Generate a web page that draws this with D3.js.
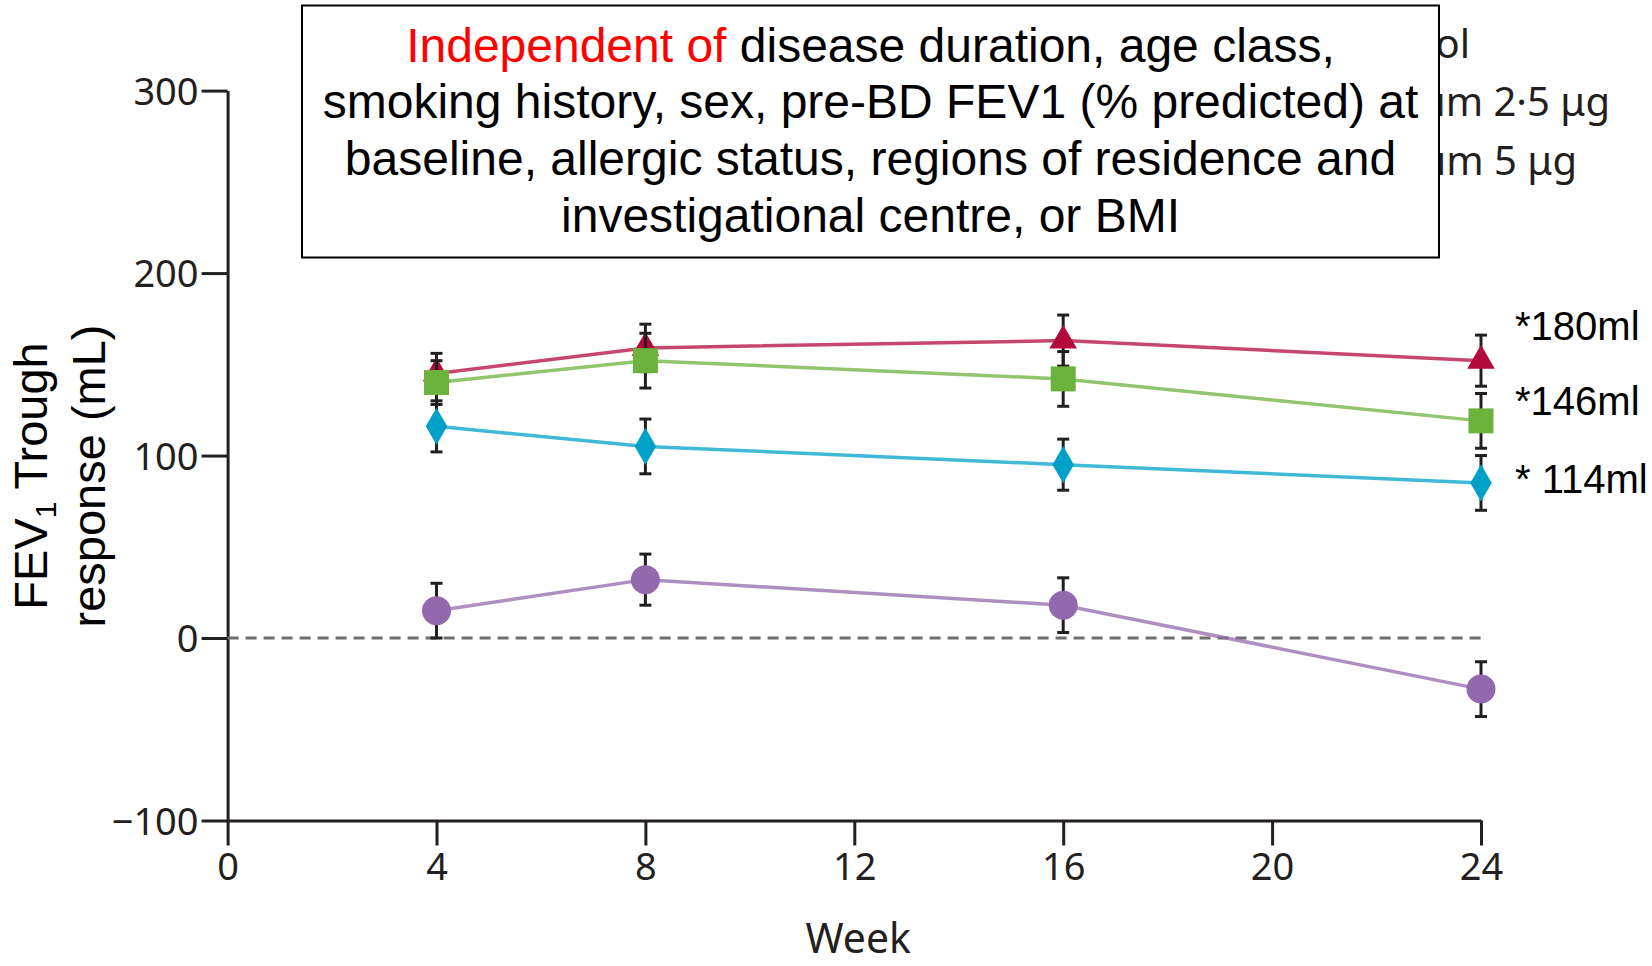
<!DOCTYPE html>
<html>
<head>
<meta charset="utf-8">
<script src="https://cdn.jsdelivr.net/npm/d3@7"></script>
<style>
  html, body { margin: 0; padding: 0; background: #ffffff; }
  svg { display: block; }
</style>
</head>
<body>
<svg id="chart" width="1652" height="966"></svg>
<script>
// Trough FEV1 response over 24 weeks, mean ± SE
const weeks = [4, 8, 16, 24];
const xTicks = [0, 4, 8, 12, 16, 20, 24];
const yTicks = [-100, 0, 100, 200, 300];

const placeboVals = [15, 32, 18, -28];
const placeboErr  = [15, 14, 15, 15];
const lowDoseVals = [116, 105, 95, 85];
const lowDoseErr  = [14, 15, 14, 15];
const highDoseVals = [145, 159, 163, 152];
const highDoseErr  = [11, 13, 14, 14];
const comboVals = [140, 152, 142, 119];
const comboErr  = [12, 15, 15, 15];

const endLabels = ["*180ml", "*146ml", "* 114ml"];
// Legend entries; only their tails show beside the note box
const legendTails = ["ol", "um 2·5 μg", "um 5 μg"];
const noteRed = "Independent of";
const noteLines = [
  " disease duration, age class,",
  "smoking history, sex, pre-BD FEV1 (% predicted) at",
  "baseline, allergic status, regions of residence and",
  "investigational centre, or BMI"
];

const series = [
  { name: "placebo", vals: placeboVals, err: placeboErr, color: "#9369ae", shape: "circle" },
  { name: "low",     vals: lowDoseVals, err: lowDoseErr, color: "#00a1c9", shape: "diamond" },
  { name: "high",    vals: highDoseVals, err: highDoseErr, color: "#b30a3c", shape: "triangle" },
  { name: "combo",   vals: comboVals, err: comboErr, color: "#6cb33e", shape: "square" }
];

const ink = "#231f20";
const tickFont = "'Noto Sans', 'DejaVu Sans', sans-serif";
const arial = "'Liberation Sans', Arial, sans-serif";

const svg = d3.select("#chart");

const x = d3.scaleLinear().domain([0, 24]).range([227.6, 1481]);
const y = d3.scaleLinear().domain([-100, 300]).range([820.5, 90.6]);

// Legend tails, clipped at the note box edge
svg.append("defs").append("clipPath").attr("id", "legendClip")
  .append("rect").attr("x", 1440).attr("y", 0).attr("width", 212).attr("height", 260);
const legendEnds = [1470, 1610, 1577];
const legendBase = [58, 116, 175];
svg.append("g").attr("clip-path", "url(#legendClip)")
  .selectAll("text").data(legendTails).join("text")
  .attr("x", (d, i) => legendEnds[i])
  .attr("y", (d, i) => legendBase[i])
  .attr("text-anchor", "end")
  .attr("font-family", tickFont)
  .attr("font-size", 40)
  .attr("fill", ink)
  .text(d => d);

// Axes
const yAxis = svg.append("g")
  .attr("transform", `translate(${x(0)},0)`)
  .call(d3.axisLeft(y).tickValues(yTicks).tickSize(26).tickSizeOuter(0).tickPadding(3));
const xAxis = svg.append("g")
  .attr("transform", `translate(0,${y(-100)})`)
  .call(d3.axisBottom(x).tickValues(xTicks).tickSize(25).tickSizeOuter(0).tickPadding(4));

[yAxis, xAxis].forEach(g => {
  g.select(".domain").attr("stroke", ink).attr("stroke-width", 3);
  g.selectAll(".tick line").attr("stroke", ink).attr("stroke-width", 3);
  g.selectAll(".tick text")
    .attr("fill", ink)
    .attr("font-family", tickFont)
    .attr("font-size", 38);
});
yAxis.selectAll(".tick text").attr("dy", "0.36em");
xAxis.selectAll(".tick text").attr("dy", "0.8em");

// Zero reference line
svg.append("line")
  .attr("x1", x(0)).attr("x2", x(24))
  .attr("y1", y(0)).attr("y2", y(0))
  .attr("stroke", "#6e6e6e")
  .attr("stroke-width", 3)
  .attr("stroke-dasharray", "11,7");

// Axis titles
svg.append("text")
  .attr("x", x(12) + 4)
  .attr("y", 953)
  .attr("text-anchor", "middle")
  .attr("font-family", tickFont)
  .attr("font-size", 41)
  .attr("fill", ink)
  .text("Week");

const yTitle = svg.append("g").attr("transform", "translate(0,476) rotate(-90)");
const t1 = yTitle.append("text")
  .attr("x", 0).attr("y", 47)
  .attr("text-anchor", "middle")
  .attr("font-family", arial)
  .attr("font-size", 47)
  .attr("fill", "#000");
t1.append("tspan").text("FEV");
t1.append("tspan").attr("font-size", 30).attr("dy", 9).text("1");
t1.append("tspan").attr("dy", -9).text(" Trough");
yTitle.append("text")
  .attr("x", 0).attr("y", 105)
  .attr("text-anchor", "middle")
  .attr("font-family", arial)
  .attr("font-size", 47)
  .attr("fill", "#000")
  .text("response (mL)");

// Series
const line = d3.line().x(d => x(d.w)).y(d => y(d.v));
const sym = {
  circle: d3.symbol().type(d3.symbolCircle).size(Math.PI * 14.5 * 14.5),
  square: d3.symbol().type(d3.symbolSquare).size(25 * 25),
  triangle: d3.symbol().type(d3.symbolTriangle).size(330),
  diamond: d3.symbol().type(d3.symbolDiamond).size(400)
};

series.forEach(s => {
  const pts = weeks.map((w, i) => ({ w, v: s.vals[i], e: s.err[i] }));
  const g = svg.append("g");
  g.append("path")
    .attr("d", line(pts))
    .attr("fill", "none")
    .attr("stroke", s.color)
    .attr("stroke-opacity", 0.75)
    .attr("stroke-width", 3.5);
  const eb = g.append("g").selectAll("g").data(pts).join("g")
    .attr("stroke", ink).attr("stroke-width", 3);
  eb.append("line")
    .attr("x1", d => x(d.w)).attr("x2", d => x(d.w))
    .attr("y1", d => y(d.v + d.e)).attr("y2", d => y(d.v - d.e));
  eb.append("line")
    .attr("x1", d => x(d.w) - 6).attr("x2", d => x(d.w) + 6)
    .attr("y1", d => y(d.v + d.e)).attr("y2", d => y(d.v + d.e));
  eb.append("line")
    .attr("x1", d => x(d.w) - 6).attr("x2", d => x(d.w) + 6)
    .attr("y1", d => y(d.v - d.e)).attr("y2", d => y(d.v - d.e));
  g.append("g").selectAll("path").data(pts).join("path")
    .attr("transform", d => `translate(${x(d.w)},${y(d.v)})`)
    .attr("d", sym[s.shape]())
    .attr("fill", s.color);
});

// End-of-study labels
const labelBase = [340, 415, 493];
svg.append("g").selectAll("text").data(endLabels).join("text")
  .attr("x", 1515)
  .attr("y", (d, i) => labelBase[i])
  .attr("font-family", arial)
  .attr("font-size", 40)
  .attr("fill", "#000")
  .text(d => d);

// Note box
const box = svg.append("g");
box.append("rect")
  .attr("x", 302).attr("y", 5.5)
  .attr("width", 1137).attr("height", 252)
  .attr("fill", "#fff")
  .attr("stroke", "#000")
  .attr("stroke-width", 2);
const noteBase = [61.7, 118.3, 175, 231.7];
box.selectAll("text").data(noteLines).join("text")
  .attr("x", 870.5)
  .attr("y", (d, i) => noteBase[i])
  .attr("text-anchor", "middle")
  .attr("font-family", arial)
  .attr("font-size", 48)
  .attr("fill", "#000")
  .each(function (d, i) {
    const t = d3.select(this);
    if (i === 0) {
      t.append("tspan").attr("fill", "#ff0000").text(noteRed);
      t.append("tspan").text(d);
    } else {
      t.text(d);
    }
  });
</script>
</body>
</html>
